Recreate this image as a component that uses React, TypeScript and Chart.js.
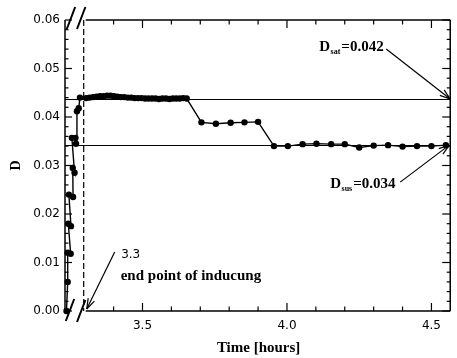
import React, { useEffect, useRef } from "react";
import { Chart, registerables } from "chart.js";

Chart.register(...registerables);

// ---- data ----
// induction phase (compressed part of the time axis, hours)
const INDUCTION_TIME = [0.25, 0.45, 0.45, 0.95, 0.55, 1.0, 0.65, 1.35, 1.3, 1.6, 1.15, 1.75, 1.85, 2.0, 2.3, 2.5];
const INDUCTION_D = [0.0, 0.006, 0.012, 0.0118, 0.018, 0.0175, 0.024, 0.0235, 0.0295, 0.0285, 0.0357, 0.0357, 0.0345, 0.0412, 0.0418, 0.044];

// after the end of inducing (hours)
const TIME = [
  3.305, 3.317, 3.329, 3.341, 3.353, 3.365, 3.377, 3.389, 3.401, 3.413,
  3.425, 3.437, 3.449, 3.461, 3.473, 3.485, 3.497, 3.509, 3.521, 3.533,
  3.545, 3.557, 3.569, 3.581, 3.593, 3.605, 3.617, 3.629, 3.641, 3.653,
  3.704, 3.754, 3.805, 3.853, 3.9,
  3.955, 4.003, 4.054, 4.102, 4.153, 4.2, 4.25, 4.3, 4.35, 4.4, 4.45, 4.5, 4.55,
];
const D = [
  0.0439, 0.044, 0.0441, 0.0442, 0.0443, 0.0443, 0.0444, 0.0444, 0.0443, 0.0442,
  0.0441, 0.0441, 0.044, 0.044, 0.0439, 0.0439, 0.0439, 0.0438, 0.0438, 0.0438,
  0.0438, 0.0437, 0.0438, 0.0438, 0.0437, 0.0438, 0.0438, 0.0438, 0.0439, 0.0438,
  0.0389, 0.0386, 0.0388, 0.0389, 0.039,
  0.034, 0.034, 0.0344, 0.0345, 0.0344, 0.0344, 0.0337, 0.0341, 0.0342, 0.0339, 0.034, 0.034, 0.0342,
];

const D_SAT_LINE = 0.0437;
const D_SUS_LINE = 0.0342;
const INDUCING_END = 3.3;

const X_MIN = 3.3;
const X_MAX = 4.565;
const X_TICKS = [3.5, 4.0, 4.5];
const Y_TICKS = [0, 0.01, 0.02, 0.03, 0.04, 0.05, 0.06];
const INDUCTION_RANGE = [0, 3.3];

const LABEL_SAT = ["D", "sat", "=0.042"];
const LABEL_SUS = ["D", "sus", "=0.034"];
const LABEL_END_VALUE = "3.3";
const LABEL_END = "end point of inducung";
const X_TITLE = "Time [hours]";
const Y_TITLE = "D";

const SERIF = '"Liberation Serif", "Times New Roman", serif';
const SANS = '"DejaVu Sans", sans-serif';

function seg(ctx: CanvasRenderingContext2D, x1: number, y1: number, x2: number, y2: number) {
  ctx.beginPath();
  ctx.moveTo(x1, y1);
  ctx.lineTo(x2, y2);
  ctx.stroke();
}

function arrow(ctx: CanvasRenderingContext2D, x1: number, y1: number, x2: number, y2: number) {
  seg(ctx, x1, y1, x2, y2);
  const a = Math.atan2(y2 - y1, x2 - x1);
  const head = 11;
  for (const s of [-0.32, 0.32]) {
    seg(ctx, x2, y2, x2 - head * Math.cos(a + s), y2 - head * Math.sin(a + s));
  }
}

function subLabel(ctx: CanvasRenderingContext2D, x: number, base: number, parts: string[]) {
  ctx.textAlign = "left";
  ctx.textBaseline = "alphabetic";
  ctx.font = `bold 15px ${SERIF}`;
  ctx.fillText(parts[0], x, base);
  let w = ctx.measureText(parts[0]).width + 0.5;
  ctx.font = `bold 8px ${SERIF}`;
  ctx.fillText(parts[1], x + w, base + 3);
  w += ctx.measureText(parts[1]).width + 1;
  ctx.font = `bold 15px ${SERIF}`;
  ctx.fillText(parts[2], x + w, base);
}

const overlay = {
  id: "overlay",
  beforeDatasetsDraw(chart: any) {
    const { ctx, chartArea: ca, scales } = chart;
    const y = scales.y;
    const xm = scales.x;
    ctx.save();
    ctx.strokeStyle = "#000";
    ctx.lineWidth = 1;
    for (const v of [D_SAT_LINE, D_SUS_LINE]) {
      const py = Math.round(y.getPixelForValue(v)) + 0.5;
      seg(ctx, ca.left, py, xm.right, py);
    }
    ctx.restore();
  },
  afterDatasetsDraw(chart: any) {
    const { ctx, chartArea: ca, scales } = chart;
    const y = scales.y;
    const xm = scales.x;
    ctx.save();
    ctx.strokeStyle = "#000";
    ctx.fillStyle = "#000";
    ctx.lineWidth = 1.5;
    ctx.lineCap = "butt";
    // left axis
    seg(ctx, ca.left, ca.top, ca.left, ca.bottom);
    // main frame
    seg(ctx, xm.left + 1, ca.top, xm.right, ca.top);
    seg(ctx, xm.right, ca.top, xm.right, ca.bottom);
    seg(ctx, xm.left + 1, ca.bottom, xm.right, ca.bottom);

    // y ticks (inward), left and right
    ctx.lineWidth = 1.2;
    for (let i = 0; i <= 30; i++) {
      const v = i * 0.002;
      const py = y.getPixelForValue(v);
      const major = i % 5 === 0;
      const lenL = major ? 7 : 3.5;
      const lenR = major ? 8 : 3.5;
      seg(ctx, ca.left, py, ca.left + lenL, py);
      seg(ctx, xm.right, py, xm.right - lenR, py);
    }
    // x ticks (inward), bottom and top
    for (let i = 4; i <= 45; i++) {
      const v = i / 10 + 3.0;
      if (v <= X_MIN + 1e-9 || v > X_MAX) continue;
      const px = xm.getPixelForValue(v);
      const major = i % 5 === 0;
      const len = major ? 8 : 4.5;
      seg(ctx, px, ca.bottom, px, ca.bottom - len);
      seg(ctx, px, ca.top, px, ca.top + len);
    }

    // dashed line: end of inducing
    const xe = xm.getPixelForValue(INDUCING_END);
    ctx.lineWidth = 1.2;
    ctx.setLineDash([6, 3]);
    seg(ctx, xe - 1, ca.top, xe - 1, ca.bottom);
    ctx.setLineDash([]);

    // axis break marks
    ctx.lineWidth = 2;
    const slash = (cx: number, cy: number) => seg(ctx, cx - 4.2, cy + 11, cx + 4.2, cy - 11);
    slash(ca.left + 6, ca.top - 2);
    slash(xm.left - 3.5, ca.top - 2);
    slash(ca.left + 5, ca.bottom - 1);
    slash(xm.left - 3.5, ca.bottom);

    // annotations
    ctx.lineWidth = 1.2;
    const ySat = y.getPixelForValue(D_SAT_LINE);
    const ySus = y.getPixelForValue(D_SUS_LINE);
    arrow(ctx, xm.right - 64, ySat - 50, xm.right, ySat);
    arrow(ctx, xm.right - 50, ySus + 37, xm.right - 1, ySus);
    arrow(ctx, xe + 30, ca.bottom - 59, xe + 2, ca.bottom - 2);

    subLabel(ctx, xm.right - 131, ySat - 48, LABEL_SAT);
    subLabel(ctx, xm.right - 120, ySus + 43, LABEL_SUS);

    ctx.font = `12px ${SANS}`;
    ctx.textAlign = "center";
    ctx.textBaseline = "middle";
    ctx.fillText(LABEL_END_VALUE, xe + 46, ca.bottom - 56);

    ctx.font = `bold 15px ${SERIF}`;
    ctx.textAlign = "left";
    ctx.textBaseline = "alphabetic";
    ctx.fillText(LABEL_END, xe + 36, ca.bottom - 31);

    // x title
    ctx.textAlign = "center";
    ctx.fillText(X_TITLE, (ca.left + ca.right) / 2 + 1, ca.bottom + 41);
    ctx.restore();
  },
};

export default function App() {
  const ref = useRef<HTMLCanvasElement | null>(null);

  useEffect(() => {
    if (!ref.current) return;
    const induction = INDUCTION_TIME.map((t, i) => ({ x: t, y: INDUCTION_D[i] }));
    const main = TIME.map((t, i) => ({ x: t, y: D[i] }));
    const ds = {
      borderColor: "#000",
      borderWidth: 1.4,
      pointRadius: 3.2,
      pointBackgroundColor: "#000",
      pointBorderColor: "#000",
      pointBorderWidth: 0,
      pointHoverRadius: 3.2,
      tension: 0,
      clip: false as any,
      yAxisID: "y",
    };
    const chart = new Chart(ref.current, {
      type: "line",
      data: {
        datasets: [
          { ...ds, label: "induction", data: induction, xAxisID: "xi" },
          { ...ds, label: "D", data: main, xAxisID: "x" },
        ],
      },
      options: {
        animation: false,
        responsive: false,
        devicePixelRatio: 1,
        layout: { padding: { top: 20, right: 1, bottom: 0, left: 0 } },
        plugins: { legend: { display: false }, tooltip: { enabled: false } },
        scales: {
          xi: {
            type: "linear",
            position: "bottom",
            stack: "time",
            stackWeight: 20,
            min: INDUCTION_RANGE[0],
            max: INDUCTION_RANGE[1],
            grid: { display: false, drawTicks: false },
            border: { display: false },
            ticks: { display: false },
            afterFit: (s: any) => {
              s.height = 47;
            },
          },
          x: {
            type: "linear",
            position: "bottom",
            stack: "time",
            stackWeight: 371,
            min: X_MIN,
            max: X_MAX,
            grid: { display: false, drawTicks: false },
            border: { display: false },
            afterBuildTicks: (s: any) => {
              s.ticks = X_TICKS.map((v) => ({ value: v }));
            },
            ticks: {
              autoSkip: false,
              maxRotation: 0,
              padding: 8,
              color: "#000",
              font: { family: SANS, size: 12 },
              callback: (v: any) => Number(v).toFixed(1),
            },
            afterFit: (s: any) => {
              s.height = 47;
            },
          },
          y: {
            type: "linear",
            position: "left",
            min: 0,
            max: 0.06,
            grid: { display: false, drawTicks: false },
            border: { display: false },
            afterBuildTicks: (s: any) => {
              s.ticks = Y_TICKS.map((v) => ({ value: v }));
            },
            ticks: {
              autoSkip: false,
              padding: 5,
              color: "#000",
              font: { family: SANS, size: 12 },
              callback: (v: any) => Number(v).toFixed(2),
            },
            title: {
              display: true,
              text: Y_TITLE,
              color: "#000",
              font: { family: SERIF, size: 14, weight: "bold" },
              padding: { top: 8, bottom: 0 },
            },
            afterFit: (s: any) => {
              s.width = 65;
            },
          },
        },
      },
      plugins: [overlay],
    });
    return () => chart.destroy();
  }, []);

  return (
    <div
      style={{
        position: "fixed",
        left: 0,
        top: 0,
        width: 457,
        height: 358,
        background: "#fff",
      }}
    >
      <canvas ref={ref} width={457} height={358} style={{ width: 457, height: 358, display: "block" }} />
    </div>
  );
}
